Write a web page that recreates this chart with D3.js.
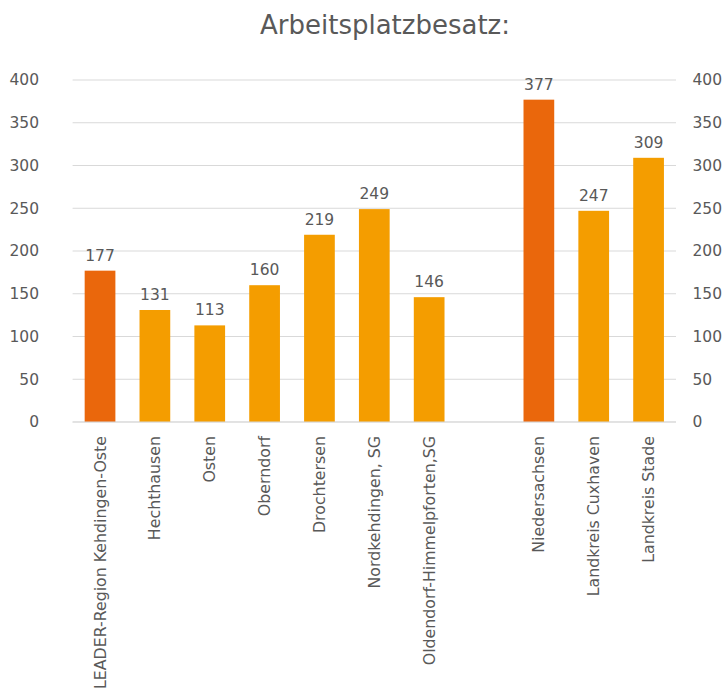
<!DOCTYPE html>
<html>
<head>
<meta charset="utf-8">
<script src="https://cdn.jsdelivr.net/npm/d3@7"></script>
<style>
  html, body { margin: 0; padding: 0; background: #fff; }
  svg { display: block; }
  text { font-family: "DejaVu Sans", sans-serif; fill: #595959; }
</style>
</head>
<body>
<svg id="chart" width="725" height="697"></svg>
<script>
const title = "Arbeitsplatzbesatz:";
const categories = [
  "LEADER-Region Kehdingen-Oste", "Hechthausen", "Osten", "Oberndorf", "Drochtersen",
  "Nordkehdingen, SG", "Oldendorf-Himmelpforten,SG", "", "Niedersachsen",
  "Landkreis Cuxhaven", "Landkreis Stade"
];
const values = [177, 131, 113, 160, 219, 249, 146, null, 377, 247, 309];
const highlight = [true, false, false, false, false, false, false, false, true, false, false];
const yTicks = [0, 50, 100, 150, 200, 250, 300, 350, 400];

const colorDark = "#EA670C";
const colorLight = "#F49D00";
const FONT = '"DejaVu Sans", sans-serif';

const svg = d3.select("#chart");
const margin = { left: 72.6, right: 725 - 676, top: 80, bottom: 697 - 422 };
const W = 725, H = 697;

const slots = categories.map((c, i) => i);
const x = d3.scaleBand().domain(slots).range([margin.left, W - margin.right]).paddingInner(0.44).paddingOuter(0.22);
const y = d3.scaleLinear().domain([0, 400]).range([H - margin.bottom, margin.top]);

// gridlines
svg.append("g").selectAll("line").data(yTicks).join("line")
  .attr("x1", margin.left).attr("x2", W - margin.right)
  .attr("y1", d => y(d)).attr("y2", d => y(d))
  .attr("stroke", "#D9D9D9").attr("stroke-width", 1);

// left axis
const leftAxis = d3.axisLeft(y).tickValues(yTicks).tickSize(0).tickPadding(0);
const gl = svg.append("g").attr("transform", `translate(39,0)`).call(leftAxis);
gl.select(".domain").remove();
gl.selectAll("text").attr("font-size", 15.5).attr("fill", "#595959").style("font-family", FONT);

// right axis
const rightAxis = d3.axisRight(y).tickValues(yTicks).tickSize(0).tickPadding(0);
const gr = svg.append("g").attr("transform", `translate(692.5,0)`).call(rightAxis);
gr.select(".domain").remove();
gr.selectAll("text").attr("font-size", 15.5).attr("fill", "#595959").style("font-family", FONT);

const data = categories.map((c, i) => ({ c, i, v: values[i], h: highlight[i] })).filter(d => d.v != null);

// bars
svg.append("g").selectAll("rect").data(data).join("rect")
  .attr("x", d => x(d.i)).attr("width", x.bandwidth())
  .attr("y", d => y(d.v)).attr("height", d => y(0) - y(d.v))
  .attr("fill", d => d.h ? colorDark : colorLight);

// baseline
svg.append("line")
  .attr("x1", margin.left).attr("x2", W - margin.right)
  .attr("y1", y(0)).attr("y2", y(0))
  .attr("stroke", "#D9D9D9").attr("stroke-width", 1);

// value labels
svg.append("g").selectAll("text").data(data).join("text")
  .attr("x", d => x(d.i) + x.bandwidth() / 2)
  .attr("y", d => y(d.v) - 10)
  .attr("text-anchor", "middle").attr("font-size", 15.5)
  .text(d => d.v);

// category labels
svg.append("g").selectAll("text").data(data).join("text")
  .attr("transform", d => `translate(${x(d.i) + x.bandwidth() / 2 + 5.5},436) rotate(-90)`)
  .attr("text-anchor", "end").attr("font-size", 15.8)
  .text(d => d.c);

// title
svg.append("text").attr("x", 385).attr("y", 34).attr("text-anchor", "middle")
  .attr("font-size", 26).text(title);
</script>
</body>
</html>
